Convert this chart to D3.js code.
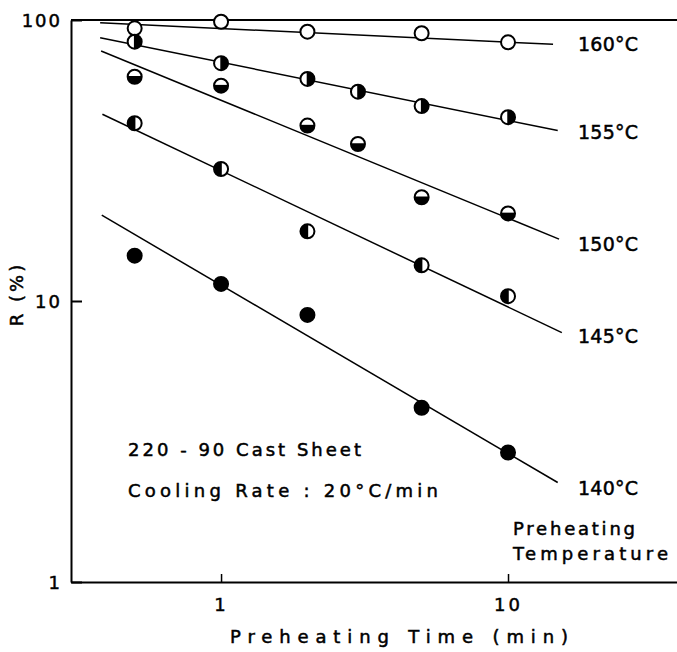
<!DOCTYPE html>
<html>
<head>
<meta charset="utf-8">
<script src="https://cdn.jsdelivr.net/npm/d3@7"></script>
<style>
  html, body { margin: 0; padding: 0; background: #fff; }
  svg { display: block; }
  text { font-family: "DejaVu Sans", "Liberation Sans", sans-serif; fill: #000; stroke: #000; stroke-width: 0.5px; }
</style>
</head>
<body>
<svg id="chart" width="677" height="652"></svg>
<script>
// ---- data ----
const times = [0.5, 1, 2, 3, 5, 10];
const temps = ["160°C", "155°C", "150°C", "145°C", "140°C"];
const r160 = [93.4, 98.6, 90.9, null, 89.7, 83.3];
const r155 = [83.7, 70.2, 61.7, 55.6, 49.4, 45.1];
const r150 = [62.8, 58.4, 42.1, 36.2, 23.4, 20.5];
const r145 = [42.9, 29.5, 17.7, null, 13.4, 10.4];
const r140 = [14.5, 11.5, 8.92, null, 4.17, 2.89];
// fitted lines: start/end time and R
const fitX0 = [0.379, 0.379, 0.382, 0.386, 0.384];
const fitY0 = [97.8, 86.5, 77.6, 46.2, 20.2];
const fitX1 = [14.35, 14.9, 15.06, 15.4, 14.9];
const fitY1 = [81.9, 40.4, 16.6, 7.72, 2.26];
const xTicks = [1, 10];
const yTicks = [1, 10, 100];

const seriesValues = [r160, r155, r150, r145, r140];
const markerKind = ["open", "right", "bottom", "left", "full"];
const labelBaselines = [51, 139, 251, 343, 495];

const svg = d3.select("#chart");
const x = d3.scaleLog().domain([0.3, 38.8]).range([71, 677]);
const y = d3.scaleLog().domain([1, 100]).range([582, 20]);

// axes
const yAxis = d3.axisLeft(y).tickValues(yTicks).tickFormat(d3.format("d"))
  .tickSizeInner(-11).tickSizeOuter(0).tickPadding(9);
const gy = svg.append("g").attr("transform", "translate(71,0)").call(yAxis);
gy.selectAll("text").attr("font-size", 18).attr("letter-spacing", 2).attr("dy", "0.38em")
  .style("font-family", "DejaVu Sans");
gy.select(".domain").attr("stroke-width", 2);
gy.selectAll(".tick line").attr("stroke-width", 2);

const xAxis = d3.axisBottom(x).tickValues(xTicks).tickFormat(d3.format("d"))
  .tickSizeInner(-8).tickSizeOuter(0).tickPadding(16);
const gx = svg.append("g").attr("transform", "translate(0,582)").call(xAxis);
gx.selectAll("text").attr("font-size", 18).attr("letter-spacing", 3)
  .style("font-family", "DejaVu Sans");
gx.select(".domain").attr("stroke-width", 2);
gx.selectAll(".tick line").attr("stroke-width", 1.5);

// top frame
svg.append("line").attr("x1", 71).attr("x2", 677).attr("y1", y(100)).attr("y2", y(100))
  .attr("stroke", "#000").attr("stroke-width", 2);

// fit lines
const lineGen = d3.line().x(d => x(d[0])).y(d => y(d[1]));
temps.forEach((t, i) => {
  svg.append("path")
    .attr("d", lineGen([[fitX0[i], fitY0[i]], [fitX1[i], fitY1[i]]]))
    .attr("fill", "none").attr("stroke", "#000").attr("stroke-width", 1.5);
});

// markers
const R = 7;
const halfPath = {
  right: `M0,${-R}A${R},${R} 0 0 1 0,${R}Z`,
  left: `M0,${-R}A${R},${R} 0 0 0 0,${R}Z`,
  bottom: `M${-R},0A${R},${R} 0 0 0 ${R},0Z`
};
seriesValues.forEach((vals, i) => {
  const kind = markerKind[i];
  const pts = times.map((t, j) => [t, vals[j]]).filter(d => d[1] != null);
  const g = svg.append("g");
  const m = g.selectAll("g").data(pts).join("g")
    .attr("transform", d => `translate(${x(d[0])},${y(d[1])})`);
  m.append("circle").attr("r", R)
    .attr("fill", kind === "full" ? "#000" : "#fff")
    .attr("stroke", "#000").attr("stroke-width", 2);
  if (halfPath[kind]) {
    m.append("path").attr("d", halfPath[kind]).attr("fill", "#000");
    if (kind === "bottom") {
      m.append("line").attr("x1", -R).attr("x2", R).attr("stroke", "#000").attr("stroke-width", 1.5);
    } else {
      m.append("line").attr("y1", -R).attr("y2", R).attr("stroke", "#000").attr("stroke-width", 1.5);
    }
  }
});

// series labels
temps.forEach((t, i) => {
  svg.append("text").attr("x", 578).attr("y", labelBaselines[i])
    .attr("font-size", 19).attr("textLength", 60).attr("lengthAdjust", "spacing")
    .text(t);
});

// annotations
function txt(s, xx, yy, size, len) {
  const el = svg.append("text").attr("x", xx).attr("y", yy).attr("font-size", size).text(s);
  if (len) el.attr("textLength", len).attr("lengthAdjust", "spacing");
  return el;
}
txt("220 - 90 Cast Sheet", 128, 456, 18, 233);
txt("Cooling Rate : 20°C/min", 128, 497, 18, 310);
txt("Preheating", 513, 535, 18, 122);
txt("Temperature", 513, 560, 18, 155);
txt("Preheating Time (min)", 230, 643, 18, 338);

// y axis title
svg.append("text").attr("transform", "translate(23,294) rotate(-90)")
  .attr("text-anchor", "middle").attr("font-size", 18)
  .attr("letter-spacing", 3).text("R (%)");
</script>
</body>
</html>
